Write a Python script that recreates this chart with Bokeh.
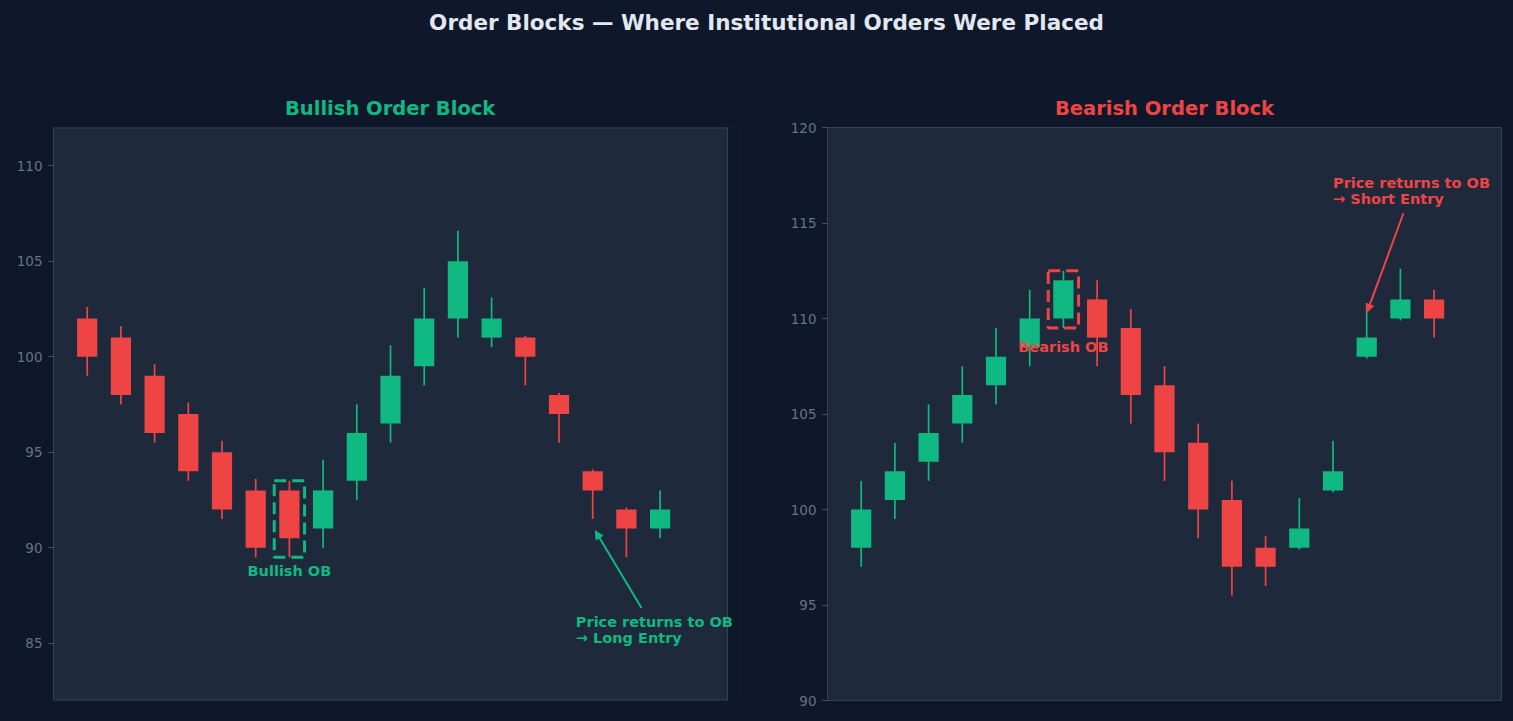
from bokeh.embed import file_html
from bokeh.layouts import column, row
from bokeh.models import ColumnDataSource, Label, NormalHead, Arrow, Range1d, SingleIntervalTicker
from bokeh.plotting import figure
from bokeh.resources import INLINE

GREEN = "#10b981"
RED = "#ef4444"
PAGE_BG = "#0f172a"
AXES_BG = "#1e293b"
SPINE = "#334155"
TICK_TEXT = "#64748b"
FONT = "DejaVu Sans"

# bullish panel: downtrend, last down candle (index 6) is the order block, then rally
bull_open = [102, 101, 99, 97, 95, 93, 93, 91, 93.5, 96.5, 99.5, 102, 101, 101, 98, 94, 92, 91]
bull_close = [100, 98, 96, 94, 92, 90, 90.5, 93, 96, 99, 102, 105, 102, 100, 97, 93, 91, 92]
bull_high = [102.6, 101.6, 99.6, 97.6, 95.6, 93.6, 93.5, 94.6, 97.5, 100.6, 103.6, 106.6,
             103.1, 101.1, 98.1, 94.1, 92.1, 93]
bull_low = [99, 97.5, 95.5, 93.5, 91.5, 89.5, 89.5, 90, 92.5, 95.5, 98.5, 101,
            100.5, 98.5, 95.5, 91.5, 89.5, 90.5]

# bearish panel: uptrend, last up candle (index 6) is the order block, then drop
bear_open = [98, 100.5, 102.5, 104.5, 106.5, 108.5, 110, 111, 109.5, 106.5, 103.5, 100.5,
             98, 98, 101, 108, 110, 111]
bear_close = [100, 102, 104, 106, 108, 110, 112, 109, 106, 103, 100, 97, 97, 99, 102, 109, 111, 110]
bear_high = [101.5, 103.5, 105.5, 107.5, 109.5, 111.5, 112.5, 112, 110.5, 107.5, 104.5, 101.5,
             98.6, 100.6, 103.6, 110.6, 112.6, 111.5]
bear_low = [97, 99.5, 101.5, 103.5, 105.5, 107.5, 109.5, 107.5, 104.5, 101.5, 98.5, 95.5,
            96, 97.9, 100.9, 107.9, 109.9, 109]

OB_INDEX = 6

FRAME_W = 674
FRAME_H = 573
HEAD_H = 60
X_LO, X_HI = -1, 19


def candle_panel(title, color, opens, highs, lows, closes, y_range, ob_label, ob_label_y,
                 note, note_xy, arrow_from, arrow_to, border_left, border_right, spill=0):
  # spill: extra px of frame right of the visible axes, so the note text is not cut
  x_end = X_HI + spill * (X_HI - X_LO) / FRAME_W
  p = figure(frame_width=FRAME_W + spill, frame_height=FRAME_H, x_range=Range1d(X_LO, x_end),
             y_range=Range1d(*y_range), x_axis_location=None, output_backend="svg",
             toolbar_location=None, min_border_left=border_left,
             min_border_right=border_right - spill, min_border_top=67, min_border_bottom=21)
  p.background_fill_color = AXES_BG
  p.border_fill_color = PAGE_BG
  p.outline_line_color = SPINE
  p.grid.visible = False

  p.title.text = title
  p.title.align = "center"
  p.title.text_color = color
  p.title.text_font = FONT
  p.title.text_font_style = "bold"
  p.title.text_font_size = "19.5px"
  p.title.standoff = 15

  ax = p.yaxis[0]
  ax.ticker = SingleIntervalTicker(interval=5, num_minor_ticks=0)
  ax.axis_line_color = SPINE
  ax.major_tick_line_color = "#475569"
  ax.major_tick_out = 5
  ax.major_tick_in = 0
  ax.minor_tick_line_color = None
  ax.major_label_standoff = 6
  ax.major_label_text_color = TICK_TEXT
  ax.major_label_text_font = FONT
  ax.major_label_text_font_size = "13.5px"

  if spill:
    y0, y1 = y_range
    p.outline_line_color = None
    p.quad(left=[X_HI], right=[x_end + 1], bottom=[y0 - 1], top=[y1 + 1],
           fill_color=PAGE_BG, line_color=None)
    p.segment(x0=[X_LO, X_LO, X_HI], y0=[y0, y1, y0], x1=[X_HI, X_HI, X_HI], y1=[y0, y1, y1],
              line_color=SPINE, line_width=[2, 2, 1])
    # keep the title centred over the visible part of the frame
    p.title.align = "left"
    p.title.offset = 231.5

  colors = [GREEN if c >= o else RED for o, c in zip(opens, closes)]
  src = ColumnDataSource(data=dict(
      x=list(range(len(opens))),
      high=highs, low=lows,
      body_lo=[min(o, c) for o, c in zip(opens, closes)],
      body_hi=[max(o, c) for o, c in zip(opens, closes)],
      color=colors))

  p.segment(x0="x", y0="low", x1="x", y1="high", source=src, line_color="color", line_width=1.7)
  p.vbar(x="x", width=0.6, bottom="body_lo", top="body_hi", source=src,
         fill_color="color", line_color=None)

  # dashed box around the order block candle
  p.quad(left=[OB_INDEX - 0.45], right=[OB_INDEX + 0.45], bottom=[lows[OB_INDEX]],
         top=[highs[OB_INDEX]], fill_alpha=0, line_color=color, line_width=3, line_dash="12 6")

  text_style = dict(text_color=color, text_font=FONT, text_font_style="bold",
                    text_font_size="14.5px")
  p.add_layout(Label(x=OB_INDEX, y=ob_label_y, text=ob_label, text_align="center",
                     text_baseline="middle", **text_style))

  # two-line note, last line's baseline sits on note_xy
  for line, dy in zip(note, [21.3, 5]):
    p.add_layout(Label(x=note_xy[0], y=note_xy[1], text=line, y_offset=dy,
                       text_align="left", text_baseline="alphabetic", **text_style))

  p.add_layout(Arrow(end=NormalHead(size=8, line_color=color, fill_color=color, line_width=1),
                     x_start=arrow_from[0], y_start=arrow_from[1],
                     x_end=arrow_to[0], y_end=arrow_to[1], line_color=color, line_width=2))
  return p


bull = candle_panel("Bullish Order Block", GREEN, bull_open, bull_high, bull_low, bull_close,
                    (82, 112), "Bullish OB", 88.8,
                    ["Price returns to OB", "\u2192 Long Entry"], (14.5, 85),
                    (16.45, 86.84), (15.08, 90.88), 53, 55, spill=12)

bear = candle_panel("Bearish Order Block", RED, bear_open, bear_high, bear_low, bear_close,
                    (90, 120), "Bearish OB", 108.5,
                    ["Price returns to OB", "\u2192 Short Entry"], (14, 116),
                    (16.09, 115.51), (15.01, 110.33), 45, 12)

head = figure(width=1513, height=HEAD_H, x_range=Range1d(0, 1), y_range=Range1d(0, 1),
              x_axis_location=None, y_axis_location=None, output_backend="svg",
              toolbar_location=None, min_border=0)
head.outline_line_color = None
head.background_fill_color = PAGE_BG
head.border_fill_color = PAGE_BG
head.grid.visible = False
head.add_layout(Label(x=766 / 1513, y=1 - 22 / HEAD_H,
                      text="Order Blocks \u2014 Where Institutional Orders Were Placed",
                      text_align="center", text_baseline="middle", text_color="#e2e8f0",
                      text_font=FONT, text_font_style="bold", text_font_size="21.5px"))

layout = column(head, row(bull, bear))

html = file_html(layout, INLINE, title="Order Blocks")
html = html.replace("</head>", "<style>html, body { background-color: %s; }</style></head>" % PAGE_BG, 1)
open("out.html", "w").write(html)
